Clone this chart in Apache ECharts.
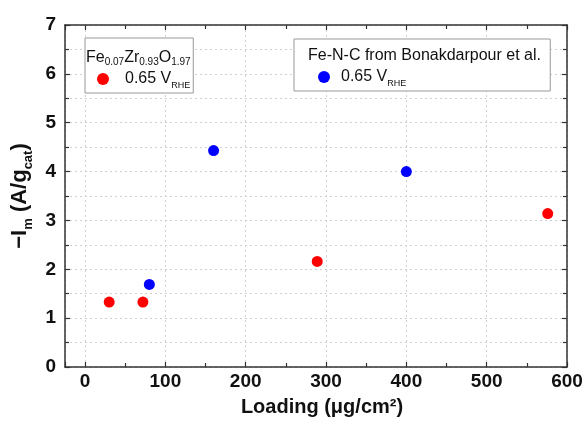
<!DOCTYPE html>
<html>
<head>
<meta charset="utf-8">
<script src="https://cdn.jsdelivr.net/npm/echarts@6/dist/echarts.min.js"></script>
<style>html,body{margin:0;padding:0;background:#fff}#c{width:588px;height:433px}</style>
</head>
<body>
<div id="c"></div>
<script>
// Data
const feZrLoading = [30, 72, 289, 576];
const feZrCurrent = [1.33, 1.33, 2.16, 3.14];
const fenLoading = [80, 160, 400];
const fenCurrent = [1.69, 4.43, 4.0];
const xTicks = [0, 100, 200, 300, 400, 500, 600];
const yTicks = [0, 1, 2, 3, 4, 5, 6, 7];

const FONT = '"Liberation Sans", Arial, sans-serif';
const AX = '#333';
const chart = echarts.init(document.getElementById('c'), null, {renderer: 'canvas'});

const pair = (xs, ys) => xs.map((x, i) => [x, ys[i]]);

const gridLine = {show: true, lineStyle: {color: '#d0d0d0', type: [2, 3], width: 1}};
const common = {
  axisLine: {show: true, onZero: false, lineStyle: {color: AX, width: 1.5}},
  axisTick: {show: true, inside: true, length: 5, lineStyle: {color: AX, width: 1.2}},
  minorTick: {show: true, splitNumber: 2, length: 4, lineStyle: {color: AX, width: 1.2}}
};
const subRich = (size) => ({fontSize: size, color: '#111', fontFamily: FONT, verticalAlign: 'bottom', lineHeight: size});

chart.setOption({
  animation: false,
  grid: {left: 65, right: 21, top: 25, bottom: 66, containLabel: false, outerBoundsMode: 'none'},
  xAxis: [
    Object.assign({}, common, {
      type: 'value', min: -25, max: 600, splitNumber: 6, position: 'bottom',
      axisLabel: {
        show: true, margin: 5, color: '#111', fontSize: 19, fontWeight: 'bold', fontFamily: FONT,
        formatter: v => xTicks.includes(v) ? String(v) : ''
      },
      splitLine: gridLine,
      name: 'Loading (μg/cm²)', nameLocation: 'middle', nameGap: 30,
      nameTextStyle: {color: '#111', fontSize: 20, fontWeight: 'bold', fontFamily: FONT, padding: [0, 0, 0, 12]}
    }),
    Object.assign({}, common, {
      type: 'value', min: -25, max: 600, splitNumber: 6, position: 'top',
      axisLabel: {show: false}, splitLine: {show: false}
    })
  ],
  yAxis: [
    Object.assign({}, common, {
      type: 'value', min: 0, max: 7, interval: 1, position: 'left',
      axisLabel: {
        show: true, margin: 9, color: '#111', fontSize: 19, fontWeight: 'bold', fontFamily: FONT,
        formatter: v => yTicks.includes(v) ? String(v) : ''
      },
      splitLine: gridLine,
      minorSplitLine: gridLine,
      name: '−I{s|m} (A/g{s|cat})', nameLocation: 'middle', nameGap: 30, nameRotate: 90,
      nameTextStyle: {
        color: '#111', fontSize: 22, fontWeight: 'bold', fontFamily: FONT, lineHeight: 30,
        rich: {
          s: {fontSize: 13, fontWeight: 'bold', fontFamily: FONT, color: '#111', verticalAlign: 'bottom', lineHeight: 14}
        }
      }
    }),
    Object.assign({}, common, {
      type: 'value', min: 0, max: 7, interval: 1, position: 'right',
      axisLabel: {show: false}, splitLine: {show: false}
    })
  ],
  legend: [
    {
      data: ['Fe0.07Zr0.93O1.97'], left: 85, top: 38, orient: 'vertical',
      padding: [30, 3, 3, 12], itemGap: 0, itemWidth: 12, itemHeight: 12,
      borderColor: '#999', borderWidth: 1, backgroundColor: '#fff',
      icon: 'circle',
      formatter: () => '0.65 V{s|RHE}',
      textStyle: {
        fontSize: 16, color: '#111', fontFamily: FONT, lineHeight: 22, padding: [0, 0, 0, 11],
        rich: {s: subRich(9)}
      }
    },
    {
      data: ['Fe-N-C from Bonakdarpour et al.'], left: 294, top: 39, orient: 'vertical',
      padding: [27, 144, 3, 24], itemGap: 0, itemWidth: 12, itemHeight: 12,
      borderColor: '#999', borderWidth: 1, backgroundColor: '#fff',
      icon: 'circle',
      formatter: () => '0.65 V{s|RHE}',
      textStyle: {
        fontSize: 16, color: '#111', fontFamily: FONT, lineHeight: 22, padding: [0, 0, 0, 6],
        rich: {s: subRich(9)}
      }
    }
  ],
  graphic: [
    {
      type: 'text', left: 86, top: 48, z: 100,
      style: {
        text: 'Fe{s|0.07}Zr{s|0.93}O{s|1.97}', fill: '#111', font: '16px ' + FONT,
        rich: {s: {fontSize: 10, fill: '#111', fontFamily: FONT, verticalAlign: 'bottom', lineHeight: 10}},
        lineHeight: 19
      }
    },
    {
      type: 'text', left: 308, top: 48, z: 100,
      style: {text: 'Fe-N-C from Bonakdarpour et al.', fill: '#111', font: '16px ' + FONT}
    }
  ],
  series: [
    {
      name: 'Fe0.07Zr0.93O1.97', type: 'scatter', xAxisIndex: 0, yAxisIndex: 0,
      symbol: 'circle', symbolSize: 11, itemStyle: {color: '#ff0000', opacity: 1},
      data: pair(feZrLoading, feZrCurrent), z: 5
    },
    {
      name: 'Fe-N-C from Bonakdarpour et al.', type: 'scatter', xAxisIndex: 0, yAxisIndex: 0,
      symbol: 'circle', symbolSize: 11, itemStyle: {color: '#0000ff', opacity: 1},
      data: pair(fenLoading, fenCurrent), z: 5
    }
  ]
});
</script>
</body>
</html>
